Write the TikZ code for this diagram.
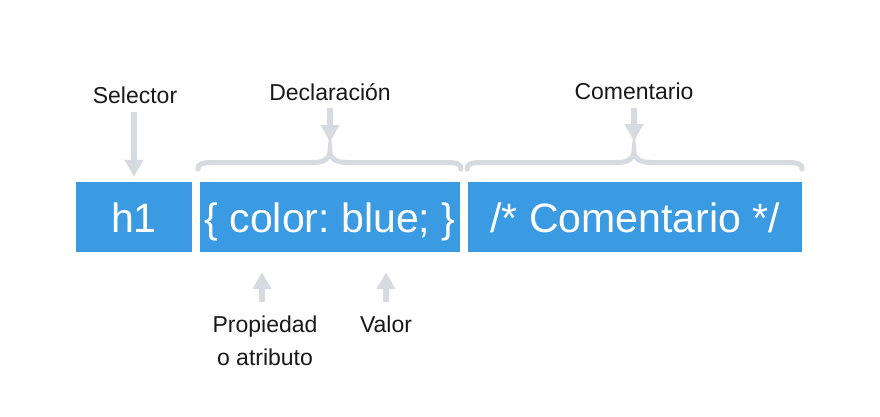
\documentclass[tikz,border=0pt]{standalone}
\usepackage{fontspec}
\setmainfont{Liberation Sans}
\usetikzlibrary{arrows.meta,calc}
\frenchspacing
\definecolor{boxblue}{RGB}{58,155,227}
\definecolor{lgray}{RGB}{213,219,224}
\definecolor{labelc}{RGB}{25,25,25}
\newcommand{\cssbrace}[3]{% left x, apex x, right x
  \draw[bracestyle] (#1,169) .. controls (#1,164) and (#1+4,162.5) .. (#1+14,162.5)
    -- (#2-18,162.5) .. controls (#2-6,162.5) and (#2,159) .. (#2,151)
    .. controls (#2,159) and (#2+6,162.5) .. (#2+18,162.5)
    -- (#3-14,162.5) .. controls (#3-4,162.5) and (#3,164) .. (#3,169);}
\begin{document}
\begin{tikzpicture}[x=1pt,y=-1pt,
  box/.style={fill=boxblue, text=white, inner sep=0pt, minimum height=70pt,
    text height=30pt, text depth=0pt, font=\fontsize{41}{41}\selectfont},
  lab/.style={text=labelc, inner sep=0pt, anchor=base, font=\fontsize{23}{28}\selectfont},
  arr/.style={draw=lgray, line width=6.5pt, -{Triangle[width=18pt,length=17pt]}},
  bracestyle/.style={draw=lgray, line width=5pt, line cap=round}]
\useasboundingbox (0,0) rectangle (880,416);
\fill[white] (0,0) rectangle (880,416);
% boxes
\node[box, minimum width=116pt] (h1) at (134,217) {h1};
\node[box, minimum width=260pt] (decl) at (330,217) {\{ color: blue; \}};
\node[box, minimum width=334pt] (comm) at (635,217) {/* Comentario */};
% braces
\cssbrace{198}{330}{461}
\cssbrace{467}{634}{802}
\coordinate (dapex) at (330,151);
\coordinate (capex) at (634,151);
% labels
\node[lab] (sel) at (135,103) {Selector};
\node[lab] (dlab) at (330,100) {Declaración};
\node[lab] (clab) at (634,99) {Comentario};
\node[lab] (prop1) at (265,332) {Propiedad};
\node[lab] (prop2) at (265,365) {o atributo};
\node[lab] (val) at (386,332) {Valor};
% arrows
\draw[arr, shorten <=9pt, shorten >=5pt] (sel.south -| h1.north) -- (h1.north);
\draw[arr, shorten <=8pt, shorten >=9pt] (dlab.south -| dapex) -- (dapex);
\draw[arr, shorten <=9pt, shorten >=10pt] (clab.south -| capex) -- (capex);
\draw[arr, shorten <=13pt, shorten >=20pt] ([xshift=-3pt]prop1.north) -- ([xshift=-3pt]prop1.north |- decl.south);
\draw[arr, shorten <=13pt, shorten >=20pt] (val.north) -- (val.north |- decl.south);
\end{tikzpicture}
\end{document}
